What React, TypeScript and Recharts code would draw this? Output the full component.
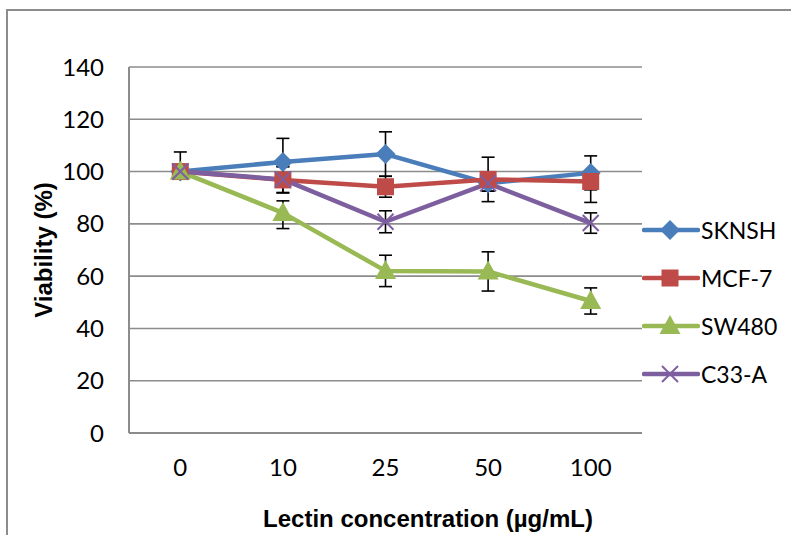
import React from 'react';
import { LineChart, Line, XAxis, YAxis, CartesianGrid, ErrorBar } from 'recharts';

const categories = ['0', '10', '25', '50', '100'];
const yTicks = [0, 20, 40, 60, 80, 100, 120, 140];

const sknsh = [100, 103.7, 106.7, 95.5, 99.5];
const mcf7 = [100, 96.8, 94.2, 97, 96.2];
const sw480 = [100, 84.2, 62, 61.8, 50.5];
const c33a = [100, 97, 80.8, 95.5, 80.3];

const sknshErr = [[0, 7.5], [9, 9], [8.5, 8.5], [3, 3], [6.5, 6.5]];
const mcf7Err = [null, [5, 5], [4, 4], [8.5, 8.5], [8, 3]];
const sw480Err = [null, [6, 4.6], [6, 6], [7.5, 7.5], [5, 5]];
const c33aErr = [null, [5, 5], [4.2, 4.2], [3, 3], [3.9, 3.9]];

const seriesNames = ['SKNSH', 'MCF-7', 'SW480', 'C33-A'];
const colors = ['#4a7ebb', '#be4b48', '#98b954', '#7d5fa0'];

const data = categories.map((c, i) => ({
  cat: c,
  SKNSH: sknsh[i],
  SKNSH_e: sknshErr[i],
  'MCF-7': mcf7[i],
  'MCF-7_e': mcf7Err[i],
  SW480: sw480[i],
  SW480_e: sw480Err[i],
  'C33-A': c33a[i],
  'C33-A_e': c33aErr[i],
}));

type Shape = 'diamond' | 'square' | 'triangle' | 'x';
const shapes: Shape[] = ['diamond', 'square', 'triangle', 'x'];

function Marker({ cx, cy, shape, color }: { cx: number; cy: number; shape: Shape; color: string }) {
  if (cx == null || cy == null) return null;
  if (shape === 'diamond') {
    return <polygon points={`${cx},${cy - 10} ${cx + 10},${cy} ${cx},${cy + 10} ${cx - 10},${cy}`} fill={color} />;
  }
  if (shape === 'square') {
    return <rect x={cx - 8.5} y={cy - 8.5} width={17} height={17} fill={color} />;
  }
  if (shape === 'triangle') {
    return <polygon points={`${cx},${cy - 11} ${cx + 10.5},${cy + 8} ${cx - 10.5},${cy + 8}`} fill={color} />;
  }
  return (
    <g stroke={color} strokeWidth={2}>
      <line x1={cx - 8} y1={cy - 8} x2={cx + 8} y2={cy + 8} />
      <line x1={cx - 8} y1={cy + 8} x2={cx + 8} y2={cy - 8} />
    </g>
  );
}

const tickFont = { fontSize: 24, fill: '#000', fontFamily: 'Lato, "Open Sans", sans-serif' };

export default function App() {
  return (
    <div style={{ position: 'absolute', left: 0, top: 0, width: 791, height: 535, overflow: 'hidden', background: '#fff' }}>
      <div
        style={{
          position: 'absolute',
          left: 6,
          top: 9,
          width: 820,
          height: 560,
          border: '2px solid #8c8c8c',
          boxSizing: 'border-box',
        }}
      />
      <div style={{ position: 'absolute', left: 0, top: 0 }}>
        <LineChart width={791} height={535} data={data} margin={{ top: 67, right: 149, left: 0, bottom: 72 }}>
          <CartesianGrid vertical={false} stroke="#8c8c8c" strokeWidth={1.6} />
          <XAxis
            dataKey="cat"
            height={30}
            padding={{ left: 51.3, right: 51.3 }}
            axisLine={{ stroke: '#8c8c8c', strokeWidth: 2 }}
            tickLine={false}
            tickSize={0}
            tickMargin={26}
            tick={tickFont}
            interval={0}
          />
          <YAxis
            width={129}
            domain={[0, 140]}
            ticks={yTicks}
            axisLine={{ stroke: '#8c8c8c', strokeWidth: 2 }}
            tickLine={false}
            tickSize={0}
            tickMargin={25}
            tick={tickFont}
            interval={0}
          />
          {seriesNames.map((name, si) => (
            <Line
              key={name}
              dataKey={name}
              stroke={colors[si]}
              strokeWidth={4.5}
              strokeLinejoin="round"
              isAnimationActive={false}
              dot={(p: any) => (
                <Marker key={`${name}-${p.index}`} cx={p.cx} cy={p.cy} shape={shapes[si]} color={colors[si]} />
              )}
              activeDot={false}
            >
              <ErrorBar dataKey={`${name}_e`} direction="y" width={6.5} stroke="#000" strokeWidth={1.6} isAnimationActive={false} />
            </Line>
          ))}
        </LineChart>
      </div>
      {/* Legend */}
      {seriesNames.map((name, si) => (
        <div
          key={name}
          style={{
            position: 'absolute',
            left: 642,
            top: 230 + si * 48 - 15,
            height: 30,
            display: 'flex',
            alignItems: 'center',
            background: '#fff',
          }}
        >
          <svg width={58} height={30} style={{ display: 'block' }}>
            <line x1={2} y1={15} x2={56} y2={15} stroke={colors[si]} strokeWidth={4.5} strokeLinecap="round" />
            <Marker cx={28} cy={15} shape={shapes[si]} color={colors[si]} />
          </svg>
          <span style={{ fontFamily: 'Lato, "Open Sans", sans-serif', fontSize: 23, color: '#000', marginLeft: 1, lineHeight: '30px' }}>
            {name}
          </span>
        </div>
      ))}
      {/* Axis titles */}
      <div
        style={{
          position: 'absolute',
          left: 428,
          top: 519,
          transform: 'translate(-50%, -50%)',
          whiteSpace: 'nowrap',
          fontFamily: '"Liberation Sans", Arial, sans-serif',
          fontWeight: 'bold',
          fontSize: 24,
          color: '#000',
        }}
      >
        Lectin concentration (µg/mL)
      </div>
      <div
        style={{
          position: 'absolute',
          left: 44,
          top: 250,
          transform: 'translate(-50%, -50%) rotate(-90deg)',
          whiteSpace: 'nowrap',
          fontFamily: '"Liberation Sans", Arial, sans-serif',
          fontWeight: 'bold',
          fontSize: 24,
          color: '#000',
        }}
      >
        Viability (%)
      </div>
    </div>
  );
}
